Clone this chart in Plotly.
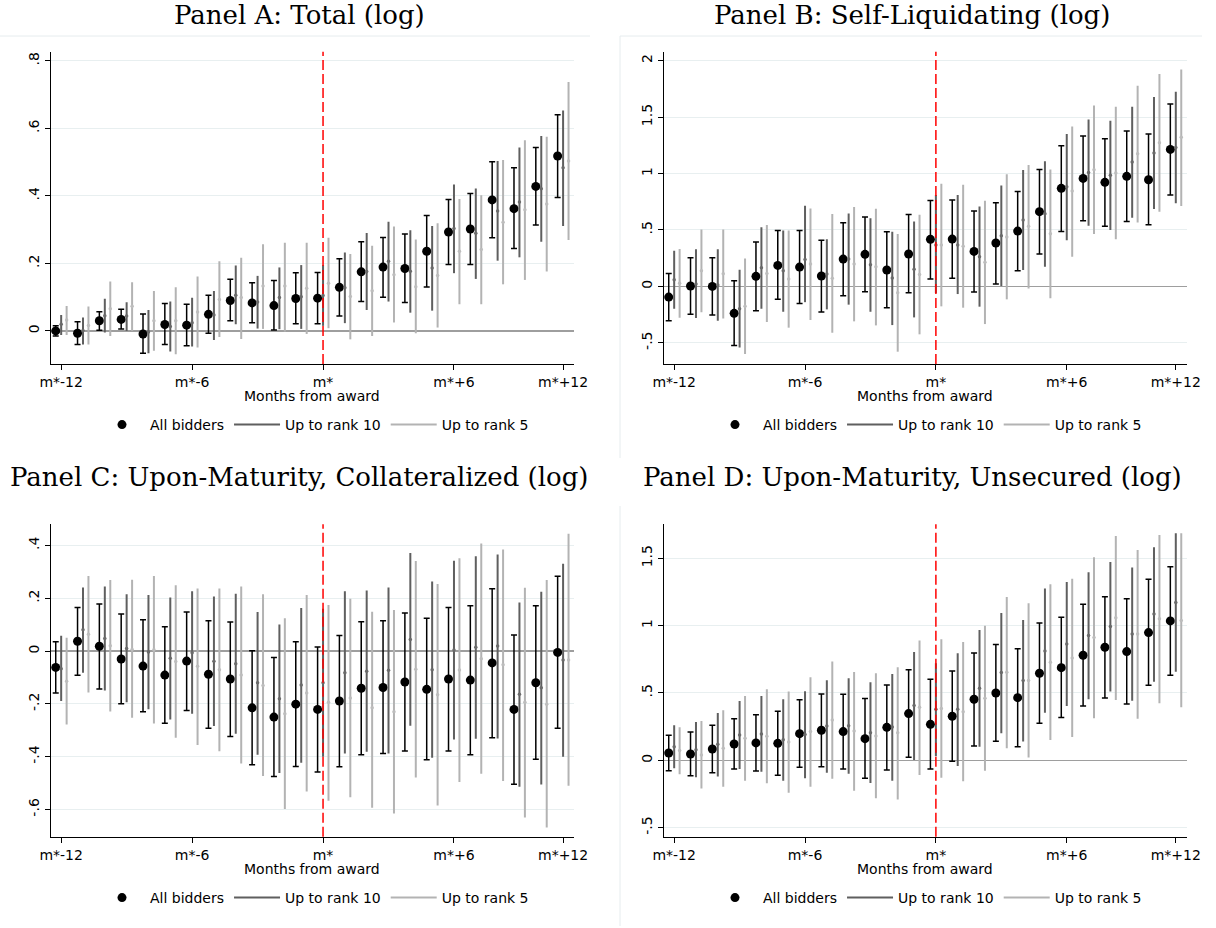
import plotly.graph_objects as go

# ---------------- data ----------------
months = list(range(-12, 12))
x_tick_vals = [-12, -6, 0, 6, 11]
x_tick_text = ["m*-12", "m*-6", "m*", "m*+6", "m*+12"]
series_names = ["All bidders", "Up to rank 10", "Up to rank 5"]
panel_titles = [
    "Panel A: Total (log)",
    "Panel B: Self-Liquidating (log)",
    "Panel C: Upon-Maturity, Collateralized (log)",
    "Panel D: Upon-Maturity, Unsecured (log)",
]
x_title = "Months from award"

# Panel A
A_all = [0.000, -0.007, 0.030, 0.034, -0.009, 0.019, 0.017, 0.049, 0.090, 0.083, 0.075, 0.096, 0.097, 0.129, 0.175, 0.189, 0.185, 0.236, 0.293, 0.302, 0.388, 0.362, 0.428, 0.518]
A_all_lo = [-0.015, -0.040, 0.002, 0.006, -0.066, -0.040, -0.044, -0.007, 0.030, 0.024, 0.003, 0.021, 0.021, 0.044, 0.087, 0.100, 0.084, 0.130, 0.197, 0.197, 0.276, 0.244, 0.314, 0.395]
A_all_hi = [0.015, 0.027, 0.057, 0.064, 0.050, 0.081, 0.079, 0.106, 0.153, 0.143, 0.149, 0.172, 0.173, 0.214, 0.264, 0.277, 0.287, 0.342, 0.389, 0.407, 0.501, 0.483, 0.543, 0.640]
A_r10 = [0.020, 0.001, 0.045, 0.044, -0.003, 0.013, 0.024, 0.047, 0.106, 0.086, 0.099, 0.101, 0.105, 0.128, 0.176, 0.206, 0.177, 0.186, 0.303, 0.289, 0.355, 0.382, 0.421, 0.483]
A_r10_lo = [-0.012, -0.040, -0.005, 0.000, -0.066, -0.061, -0.046, -0.027, 0.020, 0.007, 0.005, 0.006, 0.015, 0.023, 0.062, 0.087, 0.054, 0.060, 0.171, 0.154, 0.208, 0.218, 0.264, 0.311]
A_r10_hi = [0.047, 0.040, 0.095, 0.085, 0.062, 0.087, 0.098, 0.118, 0.194, 0.163, 0.188, 0.195, 0.195, 0.232, 0.290, 0.323, 0.298, 0.311, 0.434, 0.422, 0.503, 0.543, 0.577, 0.653]
A_r5 = [0.032, 0.016, 0.066, 0.073, 0.030, 0.030, 0.056, 0.093, 0.099, 0.133, 0.133, 0.126, 0.141, 0.102, 0.119, 0.166, 0.131, 0.164, 0.236, 0.241, 0.322, 0.359, 0.376, 0.503]
A_r5_lo = [-0.012, -0.040, -0.015, 0.000, -0.059, -0.069, -0.049, -0.018, -0.024, 0.006, -0.002, -0.009, 0.008, -0.025, -0.015, 0.025, -0.007, 0.010, 0.079, 0.079, 0.138, 0.151, 0.176, 0.269]
A_r5_hi = [0.074, 0.072, 0.146, 0.144, 0.118, 0.129, 0.161, 0.206, 0.217, 0.257, 0.261, 0.261, 0.276, 0.228, 0.252, 0.309, 0.271, 0.319, 0.391, 0.402, 0.506, 0.565, 0.575, 0.737]
A_ytick_vals = [0, 0.2, 0.4, 0.6, 0.8]
A_ytick_text = ["0", ".2", ".4", ".6", ".8"]

# Panel B
B_all = [-0.095, 0.003, 0.000, -0.239, 0.089, 0.186, 0.171, 0.092, 0.242, 0.284, 0.145, 0.287, 0.417, 0.419, 0.310, 0.384, 0.490, 0.662, 0.869, 0.957, 0.922, 0.975, 0.945, 1.214]
B_all_lo = [-0.304, -0.248, -0.254, -0.523, -0.216, -0.115, -0.151, -0.227, -0.083, -0.047, -0.189, -0.056, 0.065, 0.071, -0.050, 0.021, 0.139, 0.287, 0.487, 0.582, 0.532, 0.576, 0.547, 0.809]
B_all_hi = [0.115, 0.254, 0.254, 0.050, 0.393, 0.496, 0.496, 0.408, 0.564, 0.614, 0.484, 0.638, 0.762, 0.765, 0.668, 0.742, 0.842, 1.037, 1.247, 1.332, 1.309, 1.377, 1.350, 1.616]
B_r10 = [0.059, 0.021, 0.012, -0.198, 0.165, 0.139, 0.239, 0.109, 0.242, 0.192, 0.074, 0.151, 0.366, 0.366, 0.263, 0.449, 0.588, 0.644, 0.883, 1.010, 0.984, 1.102, 1.182, 1.232]
B_r10_lo = [-0.198, -0.281, -0.304, -0.541, -0.198, -0.225, -0.140, -0.204, -0.162, -0.225, -0.343, -0.275, -0.060, -0.068, -0.180, 0.003, 0.145, 0.174, 0.408, 0.538, 0.499, 0.609, 0.685, 0.736]
B_r10_hi = [0.316, 0.328, 0.328, 0.148, 0.523, 0.496, 0.715, 0.417, 0.647, 0.603, 0.484, 0.576, 0.810, 0.810, 0.709, 0.895, 1.031, 1.108, 1.350, 1.480, 1.468, 1.592, 1.678, 1.725]
B_r5 = [0.027, 0.139, 0.112, -0.177, 0.115, 0.065, 0.198, 0.071, 0.198, 0.174, -0.056, 0.106, 0.366, 0.355, 0.213, 0.437, 0.532, 0.467, 0.845, 1.034, 1.004, 1.176, 1.273, 1.321]
B_r5_lo = [-0.278, -0.230, -0.284, -0.600, -0.316, -0.366, -0.298, -0.411, -0.310, -0.346, -0.579, -0.425, -0.177, -0.189, -0.334, -0.115, -0.018, -0.106, 0.263, 0.464, 0.417, 0.567, 0.662, 0.712]
B_r5_hi = [0.331, 0.505, 0.505, 0.248, 0.544, 0.496, 0.691, 0.641, 0.703, 0.688, 0.464, 0.635, 0.910, 0.901, 0.759, 0.993, 1.075, 1.037, 1.418, 1.604, 1.592, 1.778, 1.882, 1.923]
B_ytick_vals = [-0.5, 0, 0.5, 1, 1.5, 2]
B_ytick_text = ["-.5", "0", ".5", "1", "1.5", "2"]

# Panel C
C_all = [-0.062, 0.037, 0.018, -0.030, -0.057, -0.091, -0.038, -0.088, -0.106, -0.215, -0.250, -0.201, -0.221, -0.189, -0.141, -0.138, -0.117, -0.145, -0.106, -0.110, -0.045, -0.221, -0.120, -0.005]
C_all_lo = [-0.159, -0.092, -0.144, -0.200, -0.230, -0.273, -0.225, -0.292, -0.324, -0.431, -0.475, -0.437, -0.458, -0.438, -0.393, -0.388, -0.378, -0.412, -0.378, -0.393, -0.328, -0.504, -0.410, -0.292]
C_all_hi = [0.035, 0.165, 0.178, 0.140, 0.119, 0.092, 0.148, 0.115, 0.110, 0.001, -0.024, 0.035, 0.015, 0.059, 0.111, 0.115, 0.144, 0.124, 0.165, 0.172, 0.236, 0.061, 0.172, 0.283]
C_r10 = [-0.067, 0.081, 0.048, 0.010, -0.004, -0.027, -0.006, -0.039, -0.048, -0.120, -0.181, -0.129, -0.120, -0.082, -0.076, -0.073, 0.044, -0.071, 0.004, 0.014, 0.019, -0.164, -0.139, -0.034]
C_r10_lo = [-0.189, -0.082, -0.149, -0.194, -0.220, -0.259, -0.237, -0.284, -0.313, -0.393, -0.462, -0.423, -0.400, -0.388, -0.381, -0.388, -0.283, -0.404, -0.335, -0.332, -0.331, -0.514, -0.505, -0.400]
C_r10_hi = [0.058, 0.241, 0.244, 0.215, 0.212, 0.203, 0.226, 0.207, 0.217, 0.148, 0.101, 0.163, 0.160, 0.226, 0.229, 0.241, 0.371, 0.263, 0.342, 0.359, 0.366, 0.184, 0.225, 0.331]
C_r5 = [-0.114, 0.064, 0.020, 0.006, 0.005, -0.040, -0.058, -0.071, -0.091, -0.130, -0.237, -0.159, -0.194, -0.178, -0.215, -0.230, -0.069, -0.165, -0.072, -0.029, -0.052, -0.194, -0.201, -0.034]
C_r5_lo = [-0.278, -0.157, -0.229, -0.253, -0.274, -0.328, -0.356, -0.379, -0.426, -0.473, -0.598, -0.532, -0.567, -0.554, -0.593, -0.615, -0.479, -0.585, -0.496, -0.465, -0.492, -0.630, -0.668, -0.510]
C_r5_hi = [0.050, 0.284, 0.269, 0.270, 0.284, 0.249, 0.237, 0.237, 0.244, 0.215, 0.124, 0.212, 0.174, 0.198, 0.149, 0.155, 0.341, 0.254, 0.351, 0.407, 0.385, 0.240, 0.269, 0.444]
C_ytick_vals = [-0.6, -0.4, -0.2, 0, 0.2, 0.4]
C_ytick_text = ["-.6", "-.4", "-.2", "0", ".2", ".4"]

# Panel D
D_all = [0.054, 0.047, 0.084, 0.121, 0.129, 0.126, 0.198, 0.223, 0.213, 0.161, 0.245, 0.347, 0.267, 0.327, 0.453, 0.500, 0.465, 0.646, 0.688, 0.780, 0.839, 0.807, 0.948, 1.035]
D_all_lo = [-0.077, -0.114, -0.092, -0.064, -0.079, -0.111, -0.052, -0.047, -0.064, -0.134, -0.072, 0.022, -0.064, -0.007, 0.106, 0.141, 0.101, 0.275, 0.317, 0.403, 0.463, 0.418, 0.557, 0.631]
D_all_hi = [0.186, 0.210, 0.260, 0.309, 0.339, 0.364, 0.450, 0.493, 0.490, 0.458, 0.559, 0.673, 0.601, 0.663, 0.797, 0.859, 0.829, 1.020, 1.062, 1.158, 1.215, 1.200, 1.344, 1.436]
D_r10 = [0.101, 0.079, 0.119, 0.188, 0.196, 0.153, 0.191, 0.255, 0.257, 0.205, 0.248, 0.406, 0.379, 0.379, 0.535, 0.651, 0.592, 0.812, 0.864, 0.926, 0.993, 0.938, 1.087, 1.171]
D_r10_lo = [-0.059, -0.126, -0.121, -0.064, -0.084, -0.151, -0.134, -0.092, -0.099, -0.168, -0.151, 0.002, 0.030, -0.042, 0.101, 0.200, 0.139, 0.354, 0.403, 0.453, 0.510, 0.443, 0.584, 0.658]
D_r10_hi = [0.260, 0.285, 0.351, 0.441, 0.478, 0.453, 0.512, 0.594, 0.609, 0.579, 0.641, 0.804, 0.720, 0.795, 0.968, 1.094, 1.042, 1.275, 1.324, 1.396, 1.473, 1.431, 1.582, 1.686]
D_r5 = [0.072, 0.040, 0.089, 0.163, 0.178, 0.136, 0.213, 0.300, 0.218, 0.181, 0.205, 0.394, 0.384, 0.361, 0.460, 0.653, 0.592, 0.728, 0.760, 0.911, 1.059, 0.938, 1.050, 1.037]
D_r5_lo = [-0.104, -0.210, -0.196, -0.151, -0.171, -0.240, -0.196, -0.136, -0.225, -0.282, -0.290, -0.109, -0.129, -0.156, -0.077, 0.089, 0.020, 0.151, 0.173, 0.312, 0.448, 0.309, 0.423, 0.394]
D_r5_hi = [0.245, 0.292, 0.371, 0.478, 0.527, 0.510, 0.616, 0.733, 0.656, 0.646, 0.691, 0.889, 0.899, 0.879, 0.998, 1.213, 1.166, 1.307, 1.347, 1.507, 1.666, 1.562, 1.673, 1.686]
D_ytick_vals = [-0.5, 0, 0.5, 1, 1.5]
D_ytick_text = ["-.5", "0", ".5", "1", "1.5"]

panels = [
    dict(all=(A_all, A_all_lo, A_all_hi), r10=(A_r10, A_r10_lo, A_r10_hi), r5=(A_r5, A_r5_lo, A_r5_hi),
         yt=(A_ytick_vals, A_ytick_text)),
    dict(all=(B_all, B_all_lo, B_all_hi), r10=(B_r10, B_r10_lo, B_r10_hi), r5=(B_r5, B_r5_lo, B_r5_hi),
         yt=(B_ytick_vals, B_ytick_text)),
    dict(all=(C_all, C_all_lo, C_all_hi), r10=(C_r10, C_r10_lo, C_r10_hi), r5=(C_r5, C_r5_lo, C_r5_hi),
         yt=(C_ytick_vals, C_ytick_text)),
    dict(all=(D_all, D_all_lo, D_all_hi), r10=(D_r10, D_r10_lo, D_r10_hi), r5=(D_r5, D_r5_lo, D_r5_hi),
         yt=(D_ytick_vals, D_ytick_text)),
]

# ---------------- layout geometry ----------------
W, H = 1216, 928


def px(x):
    return x / W


def py(y):
    return 1 - y / H


yranges = [[-0.098, 0.827], [-0.688, 2.08], [-0.703, 0.48], [-0.567, 1.752]]
xrange_ = [-12.48, 11.5]
xdom = [[px(50.7), px(574)], [px(663.7), px(1186.7)]]
ydom = [[py(364), py(51.7)], [py(836.7), py(524.3)]]
title_y = [py(15), py(477)]
xtitle_y = [py(396), py(869)]
legend_y = [py(425), py(898)]
col_center = [px(299), px(912)]
legend_center = [px(314), px(927)]
plot_center = [px(312.3), px(925.2)]

SANS = "DejaVu Sans"
SERIF = "DejaVu Serif"
C_R10 = "#5f5f5f"
C_R5 = "#b3b3b3"
GRID = "#e8eff0"

fig = go.Figure()
layout_axes = {}
annotations = []
shapes = []


def err(vals, lo, hi):
    return dict(type="data", symmetric=False,
                array=[h - v for v, h in zip(vals, hi)],
                arrayminus=[v - l for v, l in zip(vals, lo)])


for i, p in enumerate(panels):
    r, c = divmod(i, 2)
    n = i + 1
    xa = "x" if n == 1 else f"x{n}"
    ya = "y" if n == 1 else f"y{n}"
    leg = "legend" if n == 1 else f"legend{n}"

    v, lo, hi = p["all"]
    e = err(v, lo, hi)
    e.update(color="black", thickness=1.5, width=3)
    fig.add_trace(go.Scatter(x=[m - 0.25 for m in months], y=v, mode="markers",
                             marker=dict(color="black", size=9), error_y=e,
                             name=series_names[0], legend=leg, xaxis=xa, yaxis=ya))

    v, lo, hi = p["r10"]
    e = err(v, lo, hi)
    e.update(color=C_R10, thickness=2, width=0)
    fig.add_trace(go.Scatter(x=months, y=v, mode="markers",
                             marker=dict(color="#6a6a6a", size=3.5), error_y=e,
                             showlegend=False, xaxis=xa, yaxis=ya))

    v, lo, hi = p["r5"]
    e = err(v, lo, hi)
    e.update(color=C_R5, thickness=2, width=0)
    fig.add_trace(go.Scatter(x=[m + 0.25 for m in months], y=v, mode="markers",
                             marker=dict(color="#bdbdbd", size=3.5), error_y=e,
                             showlegend=False, xaxis=xa, yaxis=ya))

    # legend entries for the CI lines
    fig.add_trace(go.Scatter(x=[None], y=[None], mode="lines", line=dict(color=C_R10, width=2),
                             name=series_names[1], legend=leg, xaxis=xa, yaxis=ya))
    fig.add_trace(go.Scatter(x=[None], y=[None], mode="lines", line=dict(color=C_R5, width=2),
                             name=series_names[2], legend=leg, xaxis=xa, yaxis=ya))

    xkey = "xaxis" if n == 1 else f"xaxis{n}"
    ykey = "yaxis" if n == 1 else f"yaxis{n}"
    layout_axes[xkey] = dict(domain=xdom[c], anchor=ya, range=xrange_, automargin=False,
                             tickmode="array", tickvals=x_tick_vals, ticktext=x_tick_text,
                             showgrid=False, zeroline=False, showline=True, linecolor="black",
                             linewidth=1, ticks="outside", ticklen=5, tickcolor="black",
                             tickfont=dict(family=SANS, size=14, color="black"))
    layout_axes[ykey] = dict(domain=ydom[r], anchor=xa, range=yranges[i], automargin=False,
                             tickmode="array", tickvals=p["yt"][0], ticktext=p["yt"][1],
                             tickangle=-90, showgrid=True, gridcolor=GRID, gridwidth=1,
                             zeroline=True, zerolinecolor="#9e9e9e", zerolinewidth=1.5,
                             showline=True, linecolor="black", linewidth=1,
                             ticks="outside", ticklen=5, tickcolor="black",
                             tickfont=dict(family=SANS, size=14, color="black"))
    layout_axes[leg] = dict(orientation="h", x=legend_center[c], xanchor="center",
                            y=legend_y[r], yanchor="middle", bgcolor="rgba(0,0,0,0)",
                            font=dict(family=SANS, size=14, color="black"),
                            itemwidth=46, tracegroupgap=0)

    annotations.append(dict(text=panel_titles[i], x=col_center[c], y=title_y[r],
                            xref="paper", yref="paper", showarrow=False,
                            xanchor="center", yanchor="middle",
                            font=dict(family=SERIF, size=26, color="black")))
    annotations.append(dict(text=x_title, x=plot_center[c], y=xtitle_y[r],
                            xref="paper", yref="paper", showarrow=False,
                            xanchor="center", yanchor="middle",
                            font=dict(family=SANS, size=14, color="black")))
    shapes.append(dict(type="line", xref=xa, yref=f"{ya} domain", x0=0, x1=0, y0=0, y1=1,
                       line=dict(color="#ff0000", width=1.5, dash="10px,4px")))

# faint graph-region outlines
OUT = "#e6ecee"
shapes += [
    dict(type="line", xref="paper", yref="paper", x0=px(0), x1=px(590), y0=py(36), y1=py(36),
         line=dict(color=OUT, width=1)),
    dict(type="line", xref="paper", yref="paper", x0=px(620), x1=px(1202), y0=py(36), y1=py(36),
         line=dict(color=OUT, width=1)),
    dict(type="line", xref="paper", yref="paper", x0=px(620), x1=px(620), y0=py(36), y1=py(458),
         line=dict(color=OUT, width=1)),
    dict(type="line", xref="paper", yref="paper", x0=px(620), x1=px(620), y0=py(506), y1=py(926),
         line=dict(color=OUT, width=1)),
]

fig.update_layout(template="none", width=W, height=H,
                  margin=dict(l=0, r=0, t=0, b=0, autoexpand=False),
                  paper_bgcolor="white", plot_bgcolor="white", showlegend=True,
                  hovermode=False,
                  annotations=annotations, shapes=shapes, **layout_axes)

fig.write_html("out.html",
               config={"displayModeBar": False, "staticPlot": True},
               post_script="document.body.style.margin='0px';document.body.style.overflow='hidden';")
